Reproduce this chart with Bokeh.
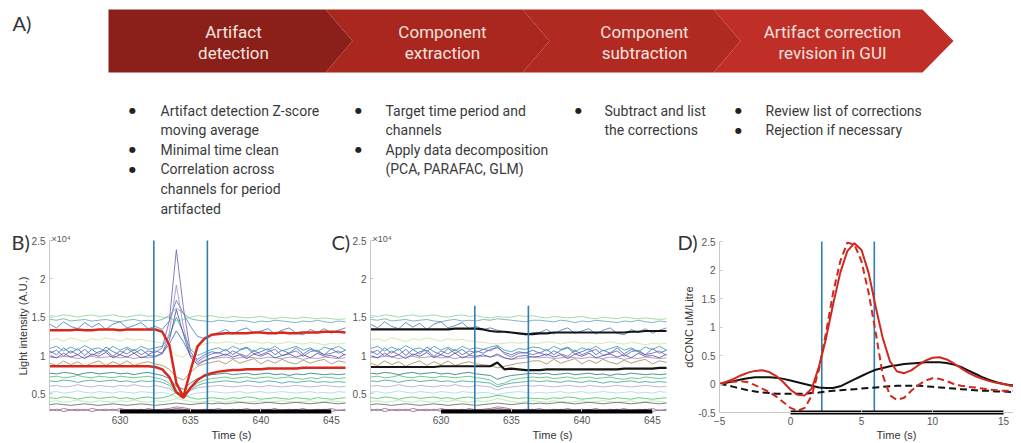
from bokeh.plotting import figure
from bokeh.models import Range1d, Label, FixedTicker
from bokeh.layouts import column, row
from bokeh.embed import file_html
from bokeh.resources import INLINE
from bokeh.core.properties import value

# ======================= Panel A content =======================
step_titles = [["Artifact", "detection"], ["Component", "extraction"],
               ["Component", "subtraction"], ["Artifact correction", "revision in GUI"]]
step_colors = ["#8b201b", "#a9271f", "#b12a21", "#bf2f27"]
bullet_columns = [
    [["Artifact detection Z-score", "moving average"], ["Minimal time clean"],
     ["Correlation across", "channels for period", "artifacted"]],
    [["Target time period and", "channels"], ["Apply data decomposition", "(PCA, PARAFAC, GLM)"]],
    [["Subtract and list", "the corrections"]],
    [["Review list of corrections"], ["Rejection if necessary"]],
]

# ======================= Panels B / C (values in x10^4) =======================
time_s = [625, 625.5, 626, 626.5, 627, 627.5, 628, 628.5, 629, 629.5, 630, 630.5, 631, 631.5,
          632, 632.5, 633, 633.5, 634, 634.5, 635, 635.5, 636, 636.5, 637, 637.5, 638, 638.5,
          639, 639.5, 640, 640.5, 641, 641.5, 642, 642.5, 643, 643.5, 644, 644.5, 645, 645.5, 646]

ch01 = [1.52,1.51,1.53,1.52,1.50, 1.52,1.53,1.51,1.52,1.53, 1.51,1.50,1.52,1.53,1.51, 1.52,1.50,1.49,1.45,1.47,
        1.50,1.52,1.51,1.52,1.50, 1.49,1.51,1.50,1.49,1.50, 1.51,1.49,1.48,1.50,1.49, 1.48,1.50,1.49,1.48,1.49, 1.48,1.47,1.48]
ch02 = [1.47,1.46,1.48,1.45,1.46, 1.47,1.45,1.46,1.47,1.45, 1.44,1.46,1.47,1.45,1.46, 1.45,1.47,1.52,1.62,1.55,
        1.48,1.46,1.45,1.44,1.46, 1.45,1.44,1.46,1.45,1.43, 1.45,1.44,1.46,1.45,1.44, 1.43,1.45,1.44,1.46,1.44, 1.43,1.45,1.44]
ch03 = [1.41,1.36,1.44,1.38,1.35, 1.43,1.37,1.42,1.34,1.41, 1.44,1.36,1.39,1.43,1.35, 1.38,1.34,1.45,1.72,1.55,
        1.38,1.25,1.22,1.27,1.30, 1.34,1.28,1.33,1.36,1.29, 1.32,1.35,1.28,1.33,1.36, 1.29,1.27,1.34,1.30,1.35, 1.29,1.33,1.36]
ch04 = [1.20,1.22,1.19,1.23,1.21, 1.18,1.22,1.20,1.23,1.21, 1.19,1.22,1.20,1.21,1.19, 1.18,1.16,1.08,1.00,0.98,
        1.06,1.12,1.15,1.17,1.16, 1.18,1.17,1.15,1.17,1.18, 1.16,1.17,1.15,1.16,1.18, 1.16,1.15,1.17,1.16,1.14, 1.16,1.15,1.16]
ch05 = [1.06,1.01,1.10,1.03,1.09, 1.00,1.08,1.02,1.11,1.05, 1.01,1.09,1.03,1.08,1.01, 1.06,1.03,1.15,1.32,1.18,
        1.00,0.95,1.01,1.05,1.03, 1.08,1.01,1.07,1.10,1.02, 1.05,1.09,1.01,1.07,1.03, 1.10,1.02,1.08,1.05,1.01, 1.09,1.03,1.07]
ch06 = [1.03,1.07,0.99,1.06,1.01, 1.08,1.00,1.05,1.07,0.99, 1.06,1.02,1.08,1.01,1.06, 1.04,1.10,1.45,2.38,1.62,
        1.05,0.92,0.98,1.02,1.04, 1.00,1.06,1.02,0.99,1.07, 1.01,1.05,1.08,1.00,1.03, 1.06,0.99,1.05,1.07,1.01, 1.03,1.06,1.00]
ch07 = [0.98,0.97,0.99,0.98,0.96, 0.98,0.99,0.97,0.98,0.99, 0.97,0.98,0.96,0.98,0.97, 0.98,1.02,1.30,1.92,1.38,
        1.00,0.90,0.94,0.96,0.97, 0.98,0.96,0.97,0.98,0.97, 0.96,0.98,0.97,0.96,0.98, 0.97,0.95,0.97,0.96,0.98, 0.97,0.96,0.97]
ch08 = [0.90,0.87,0.93,0.88,0.92, 0.86,0.90,0.93,0.87,0.92, 0.88,0.93,0.87,0.90,0.92, 0.89,0.87,0.82,0.72,0.68,
        0.78,0.86,0.89,0.91,0.93, 0.89,0.95,0.90,0.93,0.96, 0.89,0.94,0.90,0.95,0.91, 0.89,0.94,0.90,0.93,0.95, 0.89,0.93,0.91]
ch09 = [0.77,0.76,0.78,0.77,0.75, 0.77,0.78,0.76,0.77,0.78, 0.76,0.77,0.75,0.77,0.78, 0.76,0.74,0.70,0.60,0.56,
        0.64,0.70,0.73,0.75,0.76, 0.77,0.75,0.76,0.77,0.75, 0.76,0.77,0.75,0.76,0.74, 0.76,0.75,0.77,0.76,0.75, 0.76,0.75,0.76]
ch10 = [0.72,0.73,0.71,0.72,0.74, 0.72,0.71,0.73,0.72,0.71, 0.73,0.72,0.71,0.72,0.73, 0.71,0.69,0.64,0.53,0.49,
        0.57,0.64,0.68,0.70,0.71, 0.72,0.70,0.71,0.72,0.70, 0.71,0.72,0.70,0.71,0.72, 0.70,0.69,0.71,0.70,0.72, 0.71,0.70,0.71]
ch11 = [0.67,0.66,0.68,0.67,0.65, 0.67,0.68,0.66,0.67,0.68, 0.66,0.67,0.65,0.67,0.66, 0.67,0.65,0.61,0.51,0.48,
        0.55,0.61,0.64,0.65,0.66, 0.67,0.66,0.65,0.67,0.66, 0.65,0.67,0.66,0.64,0.66, 0.65,0.66,0.67,0.65,0.66, 0.65,0.66,0.65]
ch12 = [0.60,0.61,0.59,0.60,0.62, 0.60,0.59,0.61,0.60,0.59, 0.61,0.60,0.62,0.60,0.59, 0.61,0.59,0.57,0.51,0.49,
        0.54,0.58,0.59,0.60,0.61, 0.60,0.59,0.60,0.61,0.60, 0.59,0.61,0.60,0.59,0.60, 0.61,0.60,0.59,0.60,0.61, 0.60,0.59,0.60]
ch13 = [0.52,0.53,0.51,0.52,0.54, 0.52,0.51,0.53,0.52,0.51, 0.53,0.52,0.51,0.53,0.52, 0.51,0.52,0.50,0.46,0.45,
        0.49,0.51,0.52,0.53,0.52, 0.51,0.52,0.53,0.51,0.52, 0.53,0.51,0.52,0.53,0.52, 0.51,0.52,0.53,0.51,0.52, 0.51,0.53,0.52]
ch14 = [0.45,0.44,0.46,0.45,0.43, 0.45,0.46,0.44,0.45,0.46, 0.44,0.45,0.43,0.45,0.46, 0.44,0.45,0.47,0.52,0.49,
        0.45,0.43,0.44,0.45,0.44, 0.43,0.45,0.44,0.46,0.45, 0.43,0.44,0.45,0.44,0.43, 0.45,0.44,0.43,0.45,0.44, 0.43,0.44,0.45]
ch15 = [0.40,0.41,0.39,0.40,0.42, 0.40,0.39,0.41,0.40,0.39, 0.41,0.40,0.42,0.40,0.39, 0.41,0.40,0.41,0.44,0.42,
        0.40,0.39,0.40,0.41,0.40, 0.39,0.41,0.40,0.39,0.40, 0.41,0.39,0.40,0.41,0.40, 0.39,0.40,0.41,0.39,0.40, 0.41,0.40,0.39]
ch16 = [0.36,0.37,0.36,0.35,0.36, 0.37,0.36,0.35,0.36,0.37, 0.36,0.35,0.36,0.37,0.36, 0.35,0.36,0.37,0.38,0.37,
        0.36,0.37,0.38,0.37,0.38, 0.37,0.38,0.39,0.38,0.37, 0.38,0.39,0.38,0.37,0.38, 0.39,0.38,0.37,0.38,0.39, 0.38,0.37,0.38]
ch17 = [0.30,0.28,0.31,0.29,0.30, 0.28,0.31,0.29,0.30,0.28, 0.31,0.29,0.30,0.28,0.31, 0.29,0.30,0.31,0.33,0.32,
        0.30,0.28,0.30,0.29,0.31, 0.28,0.30,0.29,0.31,0.28, 0.30,0.29,0.31,0.28,0.30, 0.29,0.31,0.28,0.30,0.29, 0.31,0.28,0.30]
ch18 = [0.28,0.30,0.27,0.29,0.28, 0.30,0.27,0.29,0.28,0.30, 0.27,0.29,0.28,0.30,0.27, 0.29,0.28,0.29,0.31,0.30,
        0.28,0.29,0.28,0.30,0.27, 0.29,0.28,0.30,0.27,0.29, 0.28,0.30,0.27,0.29,0.28, 0.30,0.27,0.29,0.28,0.30, 0.27,0.29,0.28]
ch19 = [1.09,1.12,1.06,1.11,1.07, 1.13,1.08,1.10,1.05,1.12, 1.07,1.11,1.06,1.12,1.08, 1.10,1.12,1.25,1.50,1.30,
        1.08,1.00,1.04,1.08,1.10, 1.06,1.12,1.08,1.11,1.05, 1.10,1.07,1.12,1.06,1.09, 1.12,1.07,1.10,1.05,1.11, 1.08,1.12,1.07]
ch20 = [1.00,0.97,1.03,0.98,1.01, 0.96,1.02,0.99,1.04,0.97, 1.01,0.98,1.03,0.97,1.00, 0.99,1.03,1.20,1.60,1.28,
        0.98,0.88,0.93,0.97,0.99, 1.02,0.98,1.01,0.96,1.02, 0.99,1.03,0.97,1.00,1.02, 0.98,1.01,0.97,1.03,0.99, 1.00,0.97,1.02]
channels_b = [ch01, ch02, ch03, ch04, ch05, ch06, ch07, ch08, ch09, ch10,
              ch11, ch12, ch13, ch14, ch15, ch16, ch17, ch18, ch19, ch20]
channel_colors = ["#8ed88e", "#6fa7b5", "#4d7fc4", "#cfe59b", "#3f6fb8", "#7d5fb0", "#9f93c6", "#a88f62",
                  "#2d7f8c", "#5cc06c", "#3ea9a3", "#b3aacb", "#a3dede", "#4cc46a", "#aee8ae", "#6a6a6a",
                  "#a07070", "#8c5ca4", "#3b9fb0", "#5a4fa0"]

# corrected values of each channel inside the artifact window (632.5 s .. 636.5 s) for panel C
c_corrected = [
    [1.52,1.50,1.49,1.51,1.50,1.50,1.52,1.51,1.52],
    [1.45,1.47,1.46,1.48,1.47,1.46,1.45,1.44,1.46],
    [1.38,1.34,1.36,1.33,1.31,1.30,1.29,1.27,1.30],
    [1.18,1.17,1.16,1.15,1.16,1.17,1.16,1.17,1.16],
    [1.06,1.03,1.08,1.10,1.04,1.01,1.05,1.03,1.07],
    [1.04,1.08,1.06,1.12,1.02,0.98,1.03,1.04,1.01],
    [0.98,0.99,0.98,1.00,0.97,0.95,0.96,0.97,0.98],
    [0.89,0.88,0.87,0.84,0.86,0.88,0.90,0.91,0.93],
    [0.76,0.75,0.74,0.69,0.72,0.74,0.75,0.76,0.77],
    [0.71,0.70,0.68,0.62,0.64,0.68,0.70,0.71,0.72],
    [0.66,0.65,0.64,0.59,0.62,0.64,0.65,0.66,0.67],
    [0.61,0.60,0.59,0.55,0.58,0.59,0.60,0.61,0.60],
    [0.51,0.52,0.51,0.49,0.51,0.52,0.53,0.52,0.51],
    [0.44,0.45,0.46,0.48,0.47,0.45,0.44,0.45,0.44],
    None, None, None, None,
    [1.10,1.08,1.11,1.13,1.07,1.05,1.09,1.08,1.11],
    [0.99,1.01,0.98,1.02,0.97,0.95,0.99,1.00,0.98],
]
win_start, win_end = 15, 24

red_hi_b = [1.33,1.33,1.33,1.33,1.34, 1.33,1.33,1.34,1.34,1.34, 1.33,1.34,1.34,1.34,1.34, 1.34,1.31,1.14,0.64,0.46,
            0.80,1.12,1.22,1.27,1.28, 1.29,1.29,1.29,1.29,1.30, 1.30,1.29,1.29,1.30,1.29, 1.29,1.30,1.30,1.30,1.31, 1.31,1.31,1.30]
red_lo_b = [0.86,0.86,0.86,0.86,0.86, 0.86,0.86,0.86,0.86,0.86, 0.86,0.86,0.86,0.86,0.86, 0.85,0.82,0.72,0.52,0.45,
            0.58,0.68,0.74,0.77,0.79, 0.80,0.81,0.81,0.82,0.82, 0.82,0.83,0.83,0.83,0.83, 0.83,0.84,0.84,0.84,0.84, 0.84,0.84,0.84]
black_hi_c = [1.34,1.34,1.34,1.34,1.34, 1.34,1.34,1.34,1.34,1.34, 1.34,1.34,1.35,1.35,1.35, 1.35,1.34,1.32,1.31,1.31,
              1.30,1.29,1.28,1.28,1.29, 1.29,1.30,1.30,1.30,1.30, 1.30,1.30,1.30,1.30,1.30, 1.30,1.30,1.31,1.31,1.32, 1.32,1.32,1.32]
black_lo_c = [0.85,0.85,0.85,0.85,0.85, 0.85,0.85,0.85,0.85,0.85, 0.86,0.86,0.86,0.86,0.86, 0.86,0.86,0.86,0.91,0.82,
              0.83,0.82,0.81,0.81,0.81, 0.82,0.82,0.82,0.82,0.82, 0.82,0.82,0.82,0.82,0.82, 0.82,0.83,0.83,0.83,0.83, 0.83,0.84,0.84]
window_bc = [632.4, 636.2]
window_c_top = 1.65
stim_bc = [630, 645]
bc_xticks = [630, 635, 640, 645]
bc_yticks = [0.5, 1, 1.5, 2, 2.5]
bc_ytick_labels = ["0.5", "1", "1.5", "2", "2.5"]

# ======================= Panel D =======================
d_time = [-5, -4.5, -4, -3.5, -3, -2.5, -2, -1.5, -1, -0.5, 0, 0.5, 1, 1.5, 2, 2.5, 3, 3.5, 4, 4.5, 5,
          5.5, 6, 6.5, 7, 7.5, 8, 8.5, 9, 9.5, 10, 10.5, 11, 11.5, 12, 12.5, 13, 13.5, 14, 14.5, 15, 15.5, 16]
d_red_solid = [0.00,0.04,0.09,0.15,0.20, 0.23,0.24,0.21,0.14,0.03, -0.10,-0.19,-0.20,-0.08,0.30, 0.80,1.40,1.95,2.33,2.47,
               2.35,1.95,1.35,0.80,0.40, 0.22,0.19,0.24,0.33,0.41, 0.46,0.47,0.43,0.36,0.28, 0.20,0.14,0.09,0.05,0.02, 0.00,-0.03,-0.05]
d_red_dash = [0.00,0.02,0.04,0.05,0.03, -0.02,-0.08,-0.14,-0.22,-0.32, -0.42,-0.47,-0.42,-0.20,0.25, 0.90,1.60,2.15,2.48,2.45,
              2.15,1.60,0.90,0.15,-0.20, -0.28,-0.24,-0.12,-0.02,0.06, 0.10,0.09,0.05,0.00,-0.03, -0.05,-0.06,-0.08,-0.10,-0.11, -0.12,-0.12,-0.13]
d_black_solid = [0.00,0.02,0.05,0.08,0.10, 0.12,0.12,0.12,0.11,0.09, 0.06,0.03,0.00,-0.03,-0.06, -0.07,-0.07,-0.04,0.02,0.08,
                 0.14,0.20,0.25,0.28,0.31, 0.33,0.35,0.36,0.37,0.38, 0.38,0.38,0.37,0.34,0.30, 0.24,0.18,0.12,0.07,0.03, 0.00,-0.02,-0.03]
d_black_dash = [0.00,-0.02,-0.05,-0.08,-0.11, -0.13,-0.15,-0.16,-0.17,-0.17, -0.17,-0.17,-0.17,-0.16,-0.15, -0.13,-0.12,-0.11,-0.10,-0.09,
                -0.08,-0.07,-0.06,-0.05,-0.04, -0.03,-0.03,-0.03,-0.03,-0.04, -0.05,-0.06,-0.07,-0.08,-0.09, -0.10,-0.11,-0.12,-0.12,-0.13, -0.13,-0.14,-0.14]
window_d = [2.2, 5.9]
stim_d = [0, 15]
d_xticks = [-5, 0, 5, 10, 15]
d_yticks = [-0.5, 0, 0.5, 1, 1.5, 2, 2.5]
d_ytick_labels = ["-0.5", "0", "0.5", "1", "1.5", "2", "2.5"]

# ======================= Panel A figure (page-pixel coordinates) =======================
TXT = "#3a3a3a"
TOP_H = 223
top = figure(width=1013, height=TOP_H, x_range=Range1d(0, 1013), y_range=Range1d(TOP_H, 0),
             x_axis_type=None, y_axis_type=None, output_backend="svg", toolbar_location=None,
             min_border=0, title=None)
top.grid.visible = False
top.outline_line_color = None

bx = [108, 325, 522, 713, 922]
tipw = [27, 27, 27, 31]
ytop, ybot = 9, 72
ymid = (ytop + ybot) / 2
pxs, pys = [], []
for k in range(4):
    x0, x1 = bx[k], bx[k + 1]
    notch = 0 if k == 0 else tipw[k - 1]
    pxs.append([x0, x1, x1 + tipw[k], x1, x0, x0 + notch])
    pys.append([ytop, ytop, ymid, ybot, ybot, ymid])
top.patches(pxs, pys, fill_color=step_colors, line_color=None)

step_cx = [233, 442, 644, 832]
sx, sy, st = [], [], []
for cx, lines in zip(step_cx, step_titles):
    for j, ln in enumerate(lines):
        sx.append(cx); sy.append(31 + 21 * j); st.append(ln)
top.text(x=sx, y=sy, text=st, text_font=value("Roboto"), text_font_size=value("17px"),
         text_color="#f6e2de", text_align="center", text_baseline="middle")

top.text(x=[12], y=[22], text=["A)"], text_font=value("Lato"), text_font_size=value("20px"),
         text_color="#333333", text_align="left", text_baseline="middle")

dot_x = [132, 358, 578, 738]
txt_x = [160, 385, 604, 765]
bxs, bys, bts, dxs, dys = [], [], [], [], []
for ci, items in enumerate(bullet_columns):
    k = 0
    for item in items:
        dxs.append(dot_x[ci]); dys.append(110 + 19.6 * k)
        for ln in item:
            bxs.append(txt_x[ci]); bys.append(110 + 19.6 * k); bts.append(ln)
            k += 1
top.text(x=bxs, y=bys, text=bts, text_font=value("Roboto"), text_font_size=value("14px"),
         text_color=TXT, text_align="left", text_baseline="middle")
top.text(x=dxs, y=dys, text=["\u25cf"] * len(dxs), text_font=value("DejaVu Sans"),
         text_font_size=value("8px"), text_color="#222222", text_align="center", text_baseline="middle")


# ======================= helpers for B, C, D =======================
BOT_H = 218


def lin(c, p0, p1, v0, v1):
    return v0 + (c - p0) * (v1 - v0) / (p1 - p0)


class Panel:
    """Maps page pixels (reference picture coordinates) to data for one panel."""
    def __init__(self, canvas_x, frame_x, xr, frame_y, yr):
        self.cx = canvas_x
        self.fx = frame_x
        self.xr = xr
        self.fy = frame_y
        self.yr = yr

    def X(self, px):
        return lin(px, self.fx[0], self.fx[1], self.xr[0], self.xr[1])

    def Y(self, py):
        return lin(py, self.fy[1], self.fy[0], self.yr[0], self.yr[1])

    def figure(self):
        p = figure(width=self.cx[1] - self.cx[0], height=BOT_H,
                   x_range=Range1d(self.X(self.cx[0]), self.X(self.cx[1])),
                   y_range=Range1d(self.Y(TOP_H + BOT_H), self.Y(TOP_H)),
                   output_backend="svg", toolbar_location=None, title=None, min_border=0)
        p.grid.visible = False
        p.outline_line_color = None
        return p

    def label(self, p, px, py, text, size, color, font, align="left"):
        p.add_layout(Label(x=self.X(px), y=self.Y(py), text=text, text_font=font, text_font_size=size,
                           text_color=color, text_align=align, text_baseline="middle"))


def style_axes(p, pan, xt, yt, ylabels, ylab, bottom_line):
    xa, ya = p.xaxis[0], p.yaxis[0]
    xa.ticker = FixedTicker(ticks=xt)
    ya.ticker = FixedTicker(ticks=yt)
    ya.major_label_overrides = {t: s for t, s in zip(yt, ylabels)}
    ya.axis_label = ylab
    ya.fixed_location = pan.xr[0]
    xa.fixed_location = pan.yr[0]
    ya.bounds = pan.yr
    xa.bounds = (pan.xr[0], pan.X(pan.cx[1] + 60))
    for ax in (xa, ya):
        ax.axis_line_color = "#c8c8c8"
        ax.major_tick_line_color = "#c8c8c8"
        ax.major_tick_in = 3
        ax.major_tick_out = 0
        ax.minor_tick_line_color = None
        ax.major_label_text_font = "Liberation Sans"
        ax.major_label_text_font_size = "10px"
        ax.major_label_text_color = "#555555"
        ax.major_label_standoff = 4
        ax.axis_label_text_font = "Liberation Sans"
        ax.axis_label_text_font_size = "11px"
        ax.axis_label_text_font_style = "normal"
        ax.axis_label_text_color = "#333333"
        ax.axis_label_standoff = 0
    if not bottom_line:
        xa.axis_line_color = None


def time_title(p, pan, center_px):
    pan.label(p, center_px, 434, "Time (s)", "11px", "#333333", "Liberation Sans", align="center")


BC_XR = (625, 646)
BC_YR = (0.27, 2.5)
D_XR = (-5, 15.7)
D_YR = (-0.5, 2.5)
BLUE = "#2f7db3"

PB = Panel((0, 350), (49, 345), BC_XR, (240, 411), BC_YR)
PC = Panel((350, 670), (370, 666), BC_XR, (240, 411), BC_YR)
PD = Panel((670, 1013), (719, 1013), D_XR, (241, 412), D_YR)

# ---------------- Panel B ----------------
fb = PB.figure()
style_axes(fb, PB, bc_xticks, bc_yticks, bc_ytick_labels, "Light intensity (A.U.)", False)
fb.multi_line([time_s] * len(channels_b), channels_b, line_color=channel_colors, line_width=1, line_alpha=0.85)
fb.multi_line([time_s, time_s], [red_hi_b, red_lo_b], line_color="#d8281d", line_width=2.5)
fb.segment(x0=window_bc, x1=window_bc, y0=[BC_YR[0]] * 2, y1=[BC_YR[1]] * 2, line_color=BLUE, line_width=1.6)
fb.segment(x0=[stim_bc[0]], x1=[stim_bc[1]], y0=[BC_YR[0]], y1=[BC_YR[0]], line_color="#000000", line_width=4)
PB.label(fb, 11, 241, "B)", "20px", "#333333", "Lato")
PB.label(fb, 331, 241, "C)", "20px", "#333333", "Lato")
PB.label(fb, 51, 238, "\u00d710\u2074", "9px", "#555555", "Liberation Sans")
time_title(fb, PB, 231)

# ---------------- Panel C ----------------
channels_c = []
for ch, fix in zip(channels_b, c_corrected):
    channels_c.append(ch if fix is None else ch[:win_start] + fix + ch[win_end:])
fc = PC.figure()
style_axes(fc, PC, bc_xticks, bc_yticks, bc_ytick_labels, "", False)
fc.multi_line([time_s] * len(channels_c), channels_c, line_color=channel_colors, line_width=1, line_alpha=0.85)
fc.multi_line([time_s, time_s], [black_hi_c, black_lo_c], line_color="#151515", line_width=2.2)
fc.segment(x0=window_bc, x1=window_bc, y0=[BC_YR[0]] * 2, y1=[window_c_top] * 2, line_color=BLUE, line_width=1.6)
fc.segment(x0=[stim_bc[0]], x1=[stim_bc[1]], y0=[BC_YR[0]], y1=[BC_YR[0]], line_color="#000000", line_width=4)
PC.label(fc, 372, 238, "\u00d710\u2074", "9px", "#555555", "Liberation Sans")
time_title(fc, PC, 552)

# ---------------- Panel D ----------------
fd = PD.figure()
style_axes(fd, PD, d_xticks, d_yticks, d_ytick_labels, "dCONC uM/Litre", True)
fd.segment(x0=window_d, x1=window_d, y0=[D_YR[0]] * 2, y1=[D_YR[1]] * 2, line_color=BLUE, line_width=1.6)
fd.line(d_time, d_black_dash, line_color="#111111", line_width=2, line_dash="7 4")
fd.line(d_time, d_black_solid, line_color="#111111", line_width=2)
fd.line(d_time, d_red_dash, line_color="#d0281e", line_width=2, line_dash="7 4")
fd.line(d_time, d_red_solid, line_color="#d0281e", line_width=2)
fd.segment(x0=[stim_d[0]], x1=[stim_d[1]], y0=[D_YR[0]], y1=[D_YR[0]], line_color="#000000", line_width=4)
PD.label(fd, 677, 241, "D)", "20px", "#333333", "Lato")
time_title(fd, PD, 896)

layout = column(top, row(fb, fc, fd))
open("out.html", "w").write(file_html(layout, INLINE))
